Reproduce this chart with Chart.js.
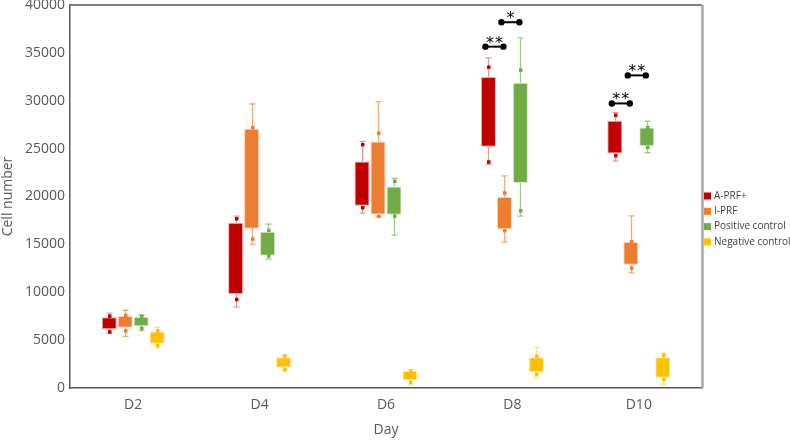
<!DOCTYPE html>
<html>
<head>
<meta charset="utf-8">
<script src="https://cdn.jsdelivr.net/npm/chart.js@4"></script>
<style>
  html, body { margin: 0; padding: 0; background: #fff; }
  #wrap { width: 790px; height: 440px; }
</style>
</head>
<body>
<div id="wrap"><canvas id="chart" width="790" height="440"></canvas></div>
<script>
// categories
const days = ['D2', 'D4', 'D6', 'D8', 'D10'];
const seriesNames = ['A-PRF+', 'I-PRF', 'Positive control', 'Negative control'];

// A-PRF+
const aprfMin = [5720, 8440, 18270, 23350, 23700];
const aprfQ1 = [6140, 9830, 19030, 25200, 24490];
const aprfQ3 = [7390, 17250, 23660, 32480, 27910];
const aprfMax = [7810, 17950, 25750, 34470, 28750];
const aprfDotLo = [5890, 9270, 18850, 23630, 24290];
const aprfDotHi = [7530, 17700, 25440, 33530, 28510];

// I-PRF
const iprfMin = [5400, 15020, 17880, 15230, 12020];
const iprfQ1 = [6300, 16620, 18120, 16590, 12860];
const iprfQ3 = [7530, 27080, 25750, 19940, 15260];
const iprfMax = [8120, 29660, 29900, 22160, 17980];
const iprfDotLo = [5990, 15580, 17950, 16450, 12550];
const iprfDotHi = [7600, 27210, 26630, 20390, 15300];

// Positive control
const posMin = [5990, 13450, 15960, 17950, 24570];
const posQ1 = [6450, 13800, 18090, 21400, 25270];
const posQ3 = [7420, 16310, 21050, 31890, 27210];
const posMax = [7600, 17110, 21880, 36560, 27880];
const posDotLo = [6270, 13830, 17980, 18540, 25160];
const posDotHi = [7530, 16490, 21610, 33220, 27210];

// Negative control
const negMin = [4210, 1780, 310, 1180, 390];
const negQ1 = [4630, 2130, 800, 1640, 1080];
const negQ3 = [5890, 3210, 1810, 3210, 3210];
const negMax = [6340, 3420, 1910, 4250, 3630];
const negDotLo = [4460, 1960, 630, 1460, 910];
const negDotHi = [5990, 3350, 1780, 3350, 3420];

// significance brackets
const sigDay = [3, 3, 4, 4];
const sigFrom = [0, 1, 0, 1];
const sigTo = [1, 2, 1, 2];
const sigLevel = [35650, 38200, 29720, 32650];
const sigStars = ['**', '*', '**', '**'];

// y axis
const yMax = 40000;
const yStep = 5000;

const colors = ['#C00000', '#ED7D31', '#70AD47', '#FFC000'];
const borders = ['rgba(255,150,150,0.8)', 'rgba(255,200,160,0.8)', 'rgba(200,230,180,0.8)', 'rgba(255,230,150,0.8)'];
const whiskerColors = ['rgba(192,0,0,0.4)', 'rgba(237,125,49,0.65)', 'rgba(112,173,71,0.65)', 'rgba(255,192,0,0.5)'];

const mins = [aprfMin, iprfMin, posMin, negMin];
const q1s = [aprfQ1, iprfQ1, posQ1, negQ1];
const q3s = [aprfQ3, iprfQ3, posQ3, negQ3];
const maxs = [aprfMax, iprfMax, posMax, negMax];
const dotsLo = [aprfDotLo, iprfDotLo, posDotLo, negDotLo];
const dotsHi = [aprfDotHi, iprfDotHi, posDotHi, negDotHi];

const datasets = seriesNames.map((name, s) => ({
    label: name,
    data: days.map((d, i) => [q1s[s][i], q3s[s][i]]),
    backgroundColor: colors[s],
    borderColor: borders[s],
    borderWidth: 1,
    borderSkipped: false,
    barPercentage: 0.94,
    categoryPercentage: 0.506
}));

// whiskers, markers, brackets, frame and legend
const extras = {
    id: 'extras',
    afterDatasetsDraw(chart) {
        const c = chart.ctx;
        const y = chart.scales.y;
        const area = chart.chartArea;
        c.save();
        seriesNames.forEach((name, s) => {
            const meta = chart.getDatasetMeta(s);
            meta.data.forEach((bar, i) => {
                const x = Math.round(bar.x) + 0.5;
                const yTop = y.getPixelForValue(maxs[s][i]);
                const yBot = y.getPixelForValue(mins[s][i]);
                const yQ3 = y.getPixelForValue(q3s[s][i]);
                const yQ1 = y.getPixelForValue(q1s[s][i]);
                c.strokeStyle = whiskerColors[s];
                c.lineWidth = 1.3;
                c.beginPath();
                c.moveTo(x, yTop); c.lineTo(x, yQ3);
                c.moveTo(x, yQ1); c.lineTo(x, yBot);
                c.moveTo(x - 3, yTop); c.lineTo(x + 3, yTop);
                c.moveTo(x - 3, yBot); c.lineTo(x + 3, yBot);
                c.stroke();
                c.fillStyle = colors[s];
                [dotsLo[s][i], dotsHi[s][i]].forEach(v => {
                    const py = y.getPixelForValue(v);
                    c.fillRect(x - 1.5, py - 1.5, 3.5, 3.5);
                });
            });
        });

        // significance brackets
        sigDay.forEach((d, k) => {
            const x1 = chart.getDatasetMeta(sigFrom[k]).data[d].x - 3;
            const x2 = chart.getDatasetMeta(sigTo[k]).data[d].x - 1;
            const py = y.getPixelForValue(sigLevel[k]);
            c.strokeStyle = '#000';
            c.fillStyle = '#000';
            c.lineWidth = 2;
            c.beginPath();
            c.moveTo(x1, py); c.lineTo(x2, py);
            c.stroke();
            [x1, x2].forEach(px => {
                c.beginPath();
                c.arc(px, py, 3.2, 0, Math.PI * 2);
                c.fill();
            });
            c.font = '16px "DejaVu Sans"';
            c.textAlign = 'center';
            c.textBaseline = 'alphabetic';
            const mid = (x1 + x2) / 2;
            const n = sigStars[k].length;
            for (let j = 0; j < n; j++) {
                c.fillText('*', mid + (j - (n - 1) / 2) * 9, py + 1);
            }
        });

        // frame top and right
        c.strokeStyle = '#595959';
        c.lineWidth = 1.5;
        c.beginPath();
        c.moveTo(area.left, area.top);
        c.lineTo(area.right, area.top);
        c.stroke();
        c.strokeStyle = '#A6A6A6';
        c.lineWidth = 2.5;
        c.beginPath();
        c.moveTo(area.right + 0.5, area.top);
        c.lineTo(area.right + 0.5, area.bottom);
        c.stroke();

        // legend
        c.font = '10px "Open Sans"';
        c.textAlign = 'left';
        c.textBaseline = 'middle';
        seriesNames.forEach((name, s) => {
            const ly = 196 + s * 15.3;
            c.fillStyle = colors[s];
            c.fillRect(704, ly - 3.5, 7, 7);
            c.fillStyle = '#404040';
            c.fillText(name, 714, ly);
        });
        c.restore();
    }
};

const chart = new Chart(document.getElementById('chart').getContext('2d'), {
    type: 'bar',
    data: { labels: days, datasets: datasets },
    plugins: [extras],
    options: {
        responsive: false,
        animation: false,
        layout: { padding: { top: 5, right: 88, left: 0, bottom: 0 } },
        plugins: { legend: { display: false }, tooltip: { enabled: false } },
        scales: {
            x: {
                grid: { display: false, drawTicks: false },
                border: { display: true, color: '#595959', width: 1.5 },
                ticks: { color: '#595959', font: { family: 'Open Sans', size: 14 }, padding: 9 },
                title: { display: true, text: 'Day', color: '#595959', font: { family: 'Open Sans', size: 14 }, padding: { top: 0, bottom: 2 } },
                afterFit: scale => { scale.height = 52; scale.paddingLeft = 0; scale.paddingRight = 0; }
            },
            y: {
                min: 0,
                max: yMax,
                grid: { display: false, drawTicks: false },
                border: { display: true, color: '#595959', width: 1.5 },
                ticks: {
                    stepSize: yStep,
                    color: '#595959',
                    font: { family: 'Open Sans', size: 14 },
                    padding: 5,
                    callback: v => String(v)
                },
                title: { display: true, text: 'Cell number', color: '#595959', font: { family: 'Open Sans', size: 14 }, padding: 0 },
                afterFit: scale => { scale.width = 70; scale.paddingTop = 0; scale.paddingBottom = 0; }
            }
        }
    }
});
</script>
</body>
</html>
